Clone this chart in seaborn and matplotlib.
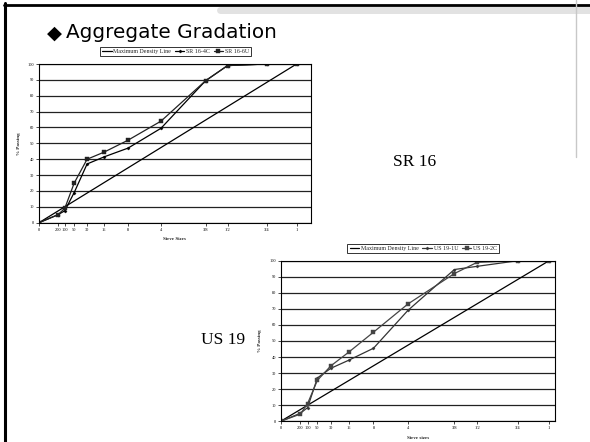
import matplotlib
matplotlib.use("Agg")
import matplotlib.pyplot as plt
import seaborn as sns
import pandas as pd
from matplotlib.lines import Line2D

# ---------------- data ----------------
sieve_labels = ["0", "200", "100", "50", "30", "16", "8", "4", "3/8", "1/2", "3/4", "1"]
sieve_mm = [0, 0.075, 0.15, 0.3, 0.6, 1.18, 2.36, 4.75, 9.5, 12.5, 19.0, 25.0]

mdl_mm = [0, 25.0]
mdl_pass = [0, 100]

sr16_4c = [0, 5, 7.5, 19, 37, 41.5, 47, 59.5, 89.5, 99, 100, 100]
sr16_6u = [0, 5, 9, 25, 40, 44.5, 52, 64, 89.5, 99, 100, 100]

us19_1u = [0, 5, 8.5, 27, 33, 38, 45.5, 69, 94.5, 96.5, 100, 100]
us19_2c = [0, 4.5, 11, 25.5, 34.5, 43, 55.5, 73, 92, 99, 100, 100]

POW = 0.45

sns.set_style("white")
plt.rcParams["font.family"] = ["Liberation Serif", "DejaVu Sans"]

W, H = 590, 442
fig = plt.figure(figsize=(W / 100, H / 100), dpi=100)


def fx(px):
    return px / W


def fy(py):
    return 1 - py / H


def make_axes(l, r, t, b):
    return fig.add_axes([fx(l), fy(b), fx(r) - fx(l), fy(t) - fy(b)])


def draw_chart(ax, names, series, styles, xmax, leg_center, xlabel):
    tx = [s ** POW for s in sieve_mm]
    mx = [s ** POW for s in mdl_mm]
    df_m = pd.DataFrame({"x": mx, "y": mdl_pass})
    sns.lineplot(data=df_m, x="x", y="y", ax=ax, color="black", lw=0.9,
                 sort=False, estimator=None, label="Maximum Density Line", legend=False)
    for name, vals, st in zip(names, series, styles):
        df = pd.DataFrame({"x": tx, "y": vals})
        sns.lineplot(data=df, x="x", y="y", ax=ax, color=st["color"], lw=0.9,
                     marker=st["marker"], markersize=st["ms"], markeredgewidth=0.3,
                     markeredgecolor=st["color"], sort=False, estimator=None,
                     label=name, legend=False)
    ax.set_xlim(0, xmax)
    ax.set_ylim(0, 100)
    ax.set_yticks(range(0, 101, 10))
    ax.set_yticklabels([str(v) for v in range(0, 101, 10)])
    ax.set_xticks(tx)
    ax.set_xticklabels(sieve_labels)
    ax.yaxis.grid(True, color="#222222", lw=0.9)
    ax.xaxis.grid(False)
    ax.set_axisbelow(True)
    for sp in ax.spines.values():
        sp.set_visible(True)
        sp.set_color("black")
        sp.set_linewidth(0.8)
    ax.tick_params(axis="both", which="both", direction="out", length=2, width=0.5,
                   labelsize=3.2, pad=1.5, bottom=True, left=True, colors="black")
    ax.set_xlabel(xlabel, fontsize=3.6, fontweight="bold", labelpad=4)
    ax.set_ylabel("% Passing", fontsize=3.6, fontweight="bold", labelpad=5)

    handles = [Line2D([], [], color="black", lw=0.9)]
    for st in styles:
        handles.append(Line2D([], [], color=st["color"], lw=0.9, marker=st["marker"],
                              markersize=st["ms"], markeredgewidth=0.3))
    leg = fig.legend(handles, ["Maximum Density Line"] + names, ncol=3,
                     loc="center", bbox_to_anchor=(fx(leg_center[0]), fy(leg_center[1])),
                     fontsize=4.3, frameon=True, fancybox=False, edgecolor="black",
                     handlelength=1.6, handletextpad=0.3, columnspacing=0.6,
                     borderpad=0.35, borderaxespad=0)
    leg.get_frame().set_linewidth(0.7)


# ---------------- top chart ----------------
ax1 = make_axes(39, 310.7, 64, 222.7)
draw_chart(ax1, ["SR 16-4C", "SR 16-6U"], [sr16_4c, sr16_6u],
           [{"color": "black", "marker": "D", "ms": 1.6},
            {"color": "#222222", "marker": "s", "ms": 2.2}],
           4.49, (175.5, 51.5), "Sieve Sizes")

# ---------------- bottom chart ----------------
ax2 = make_axes(280.7, 555, 260.7, 421.3)
draw_chart(ax2, ["US 19-1U", "US 19-2C"], [us19_1u, us19_2c],
           [{"color": "#333333", "marker": "D", "ms": 1.6},
            {"color": "#444444", "marker": "s", "ms": 2.2}],
           4.35, (423.3, 248.7), "Sieve sizes")

# ---------------- slide texts ----------------
fig.text(fx(54), fy(33), "\u25C6", fontsize=14, family=["DejaVu Sans"],
         ha="center", va="center", color="black")
fig.text(fx(66), fy(33), "Aggregate Gradation", fontsize=14.4,
         family=["DejaVu Sans"], ha="left", va="center", color="black")
fig.text(fx(415), fy(162), "SR 16", fontsize=12.5, family=["Liberation Serif"],
         ha="center", va="center", color="black")
fig.text(fx(223), fy(340), "US 19", fontsize=12.5, family=["Liberation Serif"],
         ha="center", va="center", color="black")

# ---------------- slide frame ----------------
fig.add_artist(Line2D([fx(4.5), fx(4.5)], [fy(3), fy(442)], color="black", lw=2.2,
                      transform=fig.transFigure))
fig.add_artist(Line2D([fx(3.5), fx(590)], [fy(4.5), fy(4.5)], color="black", lw=2.0,
                      transform=fig.transFigure))
fig.add_artist(Line2D([fx(220), fx(590)], [fy(10), fy(10)], color="#e2e2e2", lw=5,
                      transform=fig.transFigure))
fig.add_artist(Line2D([fx(575.5), fx(575.5)], [fy(0), fy(157)], color="#c8c8c8", lw=1.0,
                      transform=fig.transFigure))

fig.savefig("out.png", dpi=100)
